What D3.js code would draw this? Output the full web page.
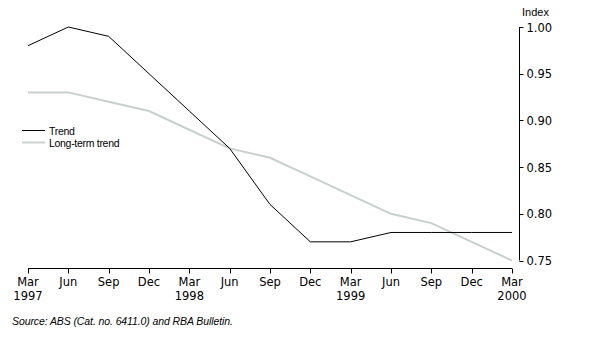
<!DOCTYPE html>
<html><head><meta charset="utf-8">
<script src="https://cdn.jsdelivr.net/npm/d3@7"></script>
<style>body{margin:0;background:#fff}svg{display:block}text{font-family:"Liberation Sans",Arial,sans-serif}</style>
</head><body>
<svg id="c" width="597" height="343"></svg>
<script>
const months = ["Mar","Jun","Sep","Dec","Mar","Jun","Sep","Dec","Mar","Jun","Sep","Dec","Mar"];
const years = ["1997","","","","1998","","","","1999","","","","2000"];
const trend = [0.98,1.00,0.99,0.95,0.91,0.87,0.81,0.77,0.77,0.78,0.78,0.78,0.78];
const longTerm = [0.93,0.93,0.92,0.91,0.89,0.87,0.86,0.84,0.82,0.80,0.79,0.77,0.75];
const yTicks = [0.75,0.80,0.85,0.90,0.95,1.00];
const seriesNames = ["Trend","Long-term trend"];

const axisFont = '"DejaVu Sans", sans-serif';
const svg = d3.select("#c");
const x = d3.scaleLinear().domain([0, months.length-1]).range([28, 512]);
const y = d3.scaleLinear().domain([0.75, 1.00]).range([260.5, 27]);

// x axis
const xa = svg.append("g").attr("transform","translate(0,268.5)");
xa.append("line").attr("x1",x(0)).attr("x2",x(12)).attr("stroke","#000");
months.forEach((m,i)=>{
  xa.append("line").attr("x1",Math.round(x(i))+0.5).attr("x2",Math.round(x(i))+0.5).attr("y1",0).attr("y2",5).attr("stroke","#000");
  xa.append("text").attr("x",x(i)).attr("y",17).attr("text-anchor","middle").attr("font-size",11.5).style("font-family",axisFont).text(m);
  if(years[i]) xa.append("text").attr("x",x(i)).attr("y",31).attr("text-anchor","middle").attr("font-size",11.5).style("font-family",axisFont).text(years[i]);
});

// y axis (right)
const ya = svg.append("g").attr("transform","translate(519.5,0)");
ya.append("line").attr("y1",y(1.00)).attr("y2",y(0.75)).attr("stroke","#000");
yTicks.forEach(t=>{
  ya.append("line").attr("x1",0).attr("x2",4).attr("y1",Math.round(y(t))+0.5).attr("y2",Math.round(y(t))+0.5).attr("stroke","#000");
  ya.append("text").attr("x",7).attr("y",y(t)+4.5).attr("font-size",11.5).style("font-family",axisFont).text(d3.format(".2f")(t));
});
svg.append("text").attr("x",522).attr("y",16).attr("font-size",11).text("Index");

const line = d3.line().x((d,i)=>x(i)).y(d=>y(d));
svg.append("path").datum(longTerm).attr("d",line).attr("fill","none").attr("stroke","#c8d0cd").attr("stroke-width",2);
svg.append("path").datum(trend).attr("d",line).attr("fill","none").attr("stroke","#000").attr("stroke-width",1);

// legend
const lg = svg.append("g");
[["#000",1],["#c8d0cd",2]].forEach((s,i)=>{
  const yy = 130.5 + i*12;
  lg.append("line").attr("x1",22).attr("x2",45).attr("y1",yy).attr("y2",yy).attr("stroke",s[0]).attr("stroke-width",s[1]);
  lg.append("text").attr("x",49).attr("y",yy+4).attr("font-size",10.5).attr("letter-spacing",-0.3).text(seriesNames[i]);
});

svg.append("text").attr("x",12).attr("y",325).attr("font-size",10.5).attr("font-style","italic").attr("letter-spacing",-0.1)
  .text("Source: ABS (Cat. no. 6411.0) and RBA Bulletin.");
</script>
</body></html>
